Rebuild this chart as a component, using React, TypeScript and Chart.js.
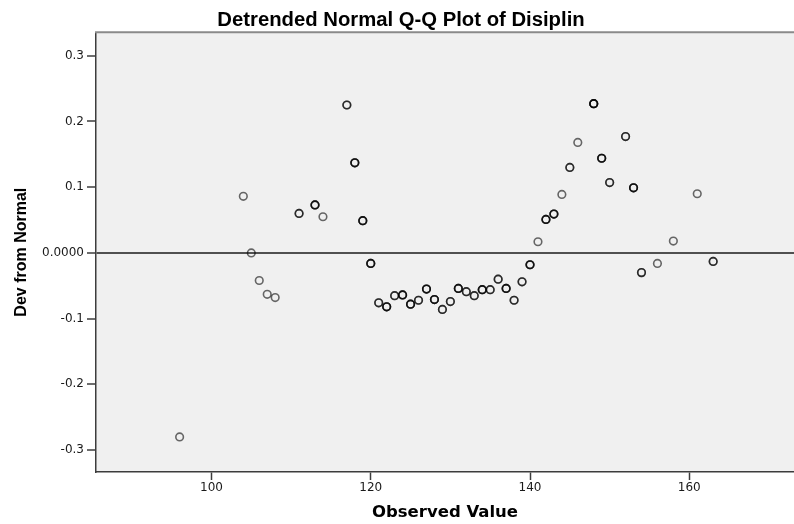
import React, { useEffect, useRef } from "react";
import { Chart, registerables } from "chart.js";

Chart.register(...registerables);

const chartTitle = "Detrended Normal Q-Q Plot of Disiplin";
const xAxisTitle = "Observed Value";
const yAxisTitle = "Dev from Normal";

const observedValues = [
  96, 104, 105, 106, 107, 108, 111, 113, 114, 117, 118, 119, 120, 121, 122, 123, 124,
  125, 126, 127, 128, 129, 130, 131, 132, 133, 134, 135, 136, 137, 138, 139, 140, 141,
  142, 143, 144, 145, 146, 148, 149, 150, 152, 153, 154, 156, 158, 161, 163,
];
const devFromNormal = [
  -0.28, 0.086, 0.0, -0.042, -0.063, -0.068, 0.06, 0.073, 0.055, 0.225, 0.137, 0.049,
  -0.016, -0.076, -0.082, -0.065, -0.064, -0.078, -0.072, -0.055, -0.071, -0.086,
  -0.074, -0.054, -0.059, -0.065, -0.056, -0.056, -0.04, -0.054, -0.072, -0.044,
  -0.018, 0.017, 0.051, 0.059, 0.089, 0.13, 0.168, 0.227, 0.144, 0.107, 0.177, 0.099,
  -0.03, -0.016, 0.018, 0.09, -0.013,
];
// number of cases sharing each observed value (overlapping markers look darker)
const caseCounts = [
  1, 1, 1, 1, 1, 1, 2, 3, 1, 2, 3, 3, 3, 2, 3, 2, 3, 3, 2, 3, 3, 2, 2, 3, 2, 2, 3, 2,
  2, 3, 2, 2, 3, 1, 3, 3, 1, 2, 1, 4, 3, 2, 2, 3, 2, 1, 1, 1, 2,
];

const xTickValues = [100, 120, 140, 160];
const yTickValues = [-0.3, -0.2, -0.1, 0, 0.1, 0.2, 0.3];
const yTickLabels = ["-0.3", "-0.2", "-0.1", "0.0000", "0.1", "0.2", "0.3"];
const xRange = [85.5, 173.15];
const yRange = [-0.3333, 0.3355];

const framePlugin = {
  id: "spssFrame",
  beforeDraw(chart: any) {
    const { ctx, chartArea } = chart;
    const { left, top, right, bottom } = chartArea;
    ctx.save();
    ctx.fillStyle = "#ffffff";
    ctx.fillRect(0, 0, chart.width, chart.height);
    ctx.fillStyle = "#f0f0f0";
    ctx.fillRect(left, top, right - left, bottom - top);
    ctx.restore();
  },
  afterDraw(chart: any) {
    const { ctx, chartArea } = chart;
    const { left, top, right } = chartArea;
    ctx.save();
    ctx.strokeStyle = "#8a8a8a";
    ctx.lineWidth = 2;
    ctx.beginPath();
    ctx.moveTo(left - 1, top);
    ctx.lineTo(right, top);
    ctx.stroke();
    ctx.restore();
  },
};

export default function App() {
  const canvasRef = useRef<HTMLCanvasElement | null>(null);

  useEffect(() => {
    const canvas = canvasRef.current;
    if (!canvas) return;
    const points: { x: number; y: number }[] = [];
    observedValues.forEach((x, i) => {
      for (let k = 0; k < caseCounts[i]; k++) points.push({ x, y: devFromNormal[i] });
    });

    const chart = new Chart(canvas, {
      type: "scatter",
      data: {
        datasets: [
          {
            data: points,
            pointRadius: 3.8,
            pointHoverRadius: 3.8,
            pointBorderWidth: 1.6,
            pointBorderColor: "rgba(0,0,0,0.58)",
            pointBackgroundColor: "rgba(0,0,0,0)",
            showLine: false,
          },
        ],
      },
      options: {
        animation: false,
        responsive: false,
        events: [],
        layout: { autoPadding: false, padding: { left: 8, top: 0, right: 0, bottom: 0 } },
        plugins: {
          legend: { display: false },
          tooltip: { enabled: false },
          title: {
            display: true,
            text: chartTitle,
            color: "#000000",
            font: { family: "Liberation Sans", size: 20.3, weight: "bold" },
            padding: { top: 8, bottom: 0 },
          },
        },
        scales: {
          x: {
            type: "linear",
            position: "bottom",
            min: xRange[0],
            max: xRange[1],
            afterBuildTicks: (s: any) => {
              s.ticks = xTickValues.map((v) => ({ value: v }));
            },
            afterFit: (s: any) => {
              s.height = 52;
            },
            ticks: {
              color: "#1a1a1a",
              font: { family: "DejaVu Sans", size: 12 },
              padding: 1,
              maxRotation: 0,
              autoSkip: false,
            },
            grid: {
              display: true,
              drawOnChartArea: false,
              drawTicks: true,
              tickLength: 8,
              tickColor: "#3c3c3c",
              tickWidth: 1.5,
            },
            border: { display: true, color: "#3c3c3c", width: 1.5 },
            title: {
              display: true,
              text: xAxisTitle,
              color: "#000000",
              font: { family: "DejaVu Sans", size: 16.5, weight: "bold" },
              padding: { top: 0, bottom: 1 },
            },
          },
          y: {
            type: "linear",
            position: "left",
            min: yRange[0],
            max: yRange[1],
            afterBuildTicks: (s: any) => {
              s.ticks = yTickValues.map((v) => ({ value: v }));
            },
            afterFit: (s: any) => {
              s.width = 88;
            },
            ticks: {
              color: "#1a1a1a",
              font: { family: "DejaVu Sans", size: 12 },
              padding: 3,
              autoSkip: false,
              callback: (_v: any, i: number) => yTickLabels[i],
            },
            grid: {
              display: true,
              drawOnChartArea: true,
              drawTicks: true,
              tickLength: 9,
              lineWidth: 2,
              color: (c: any) =>
                c.tick && Math.abs(c.tick.value) < 1e-9 ? "#505050" : "rgba(0,0,0,0)",
              tickColor: "#3c3c3c",
              tickWidth: 1.5,
            },
            border: { display: true, color: "#3c3c3c", width: 1.5 },
            title: {
              display: true,
              text: yAxisTitle,
              color: "#000000",
              font: { family: "Liberation Sans", size: 16, weight: "bold" },
              padding: { top: 4, bottom: 0 },
            },
          },
        },
      },
      plugins: [framePlugin],
    } as any);

    return () => chart.destroy();
  }, []);

  return (
    <div
      style={{
        position: "fixed",
        left: 0,
        top: 0,
        width: 794,
        height: 524,
        background: "#ffffff",
      }}
    >
      <canvas ref={canvasRef} width={794} height={524} style={{ display: "block" }} />
    </div>
  );
}
